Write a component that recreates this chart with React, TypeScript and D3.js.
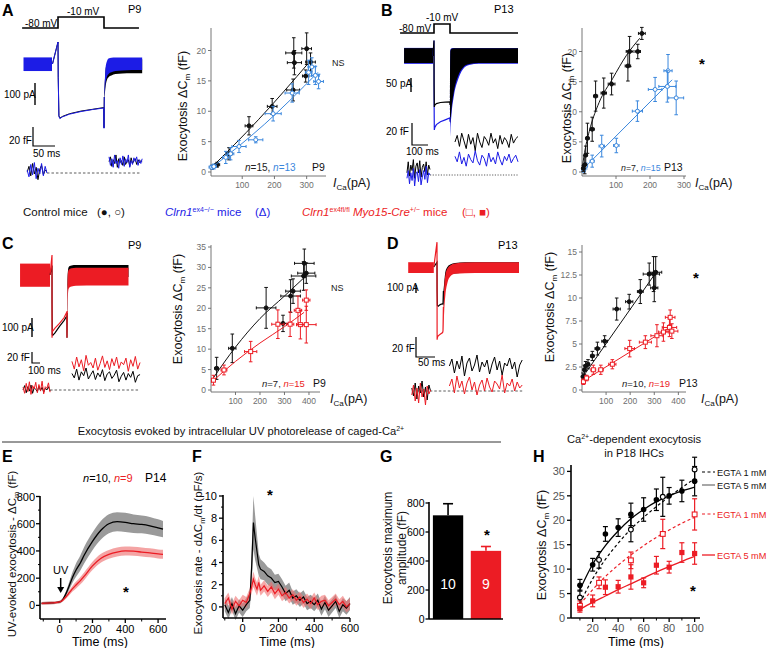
import React from "react";
import * as d3 from "d3";

const FONT = "'Liberation Sans', Arial, Helvetica, sans-serif";
const BLUE_TR = "#1c1ce6";
const BLUE_PT = "#3a87dd";
const RED = "#ec1c24";
const AX = "#666";
const TK = "#6e6e6e";

// ================= Panel A traces (P9) =================
const protoA_t = [-78, 0, 0, 100, 100, 176];
const protoA_mV = [-80, -80, -10, -10, -80, -80];
const preA_t = [-75, -13];
const preA_hi = [30, 30];
const preA_lo = [-32, -32];
const stepA_t = [-12, 0, 0.5, 2, 4, 10, 25, 50, 75, 99.5, 100, 100.6];
const stepA_ctl = [0, 100, -60, -235, -246, -238, -226, -214, -206, -198, -290, -150];
const stepA_ko = [0, 100, -60, -238, -248, -240, -228, -216, -207, -200, -292, -150];
const postA_t = [100.6, 103, 106, 110, 116, 125, 140, 160, 183];
const postA_ctl_hi = [-130, -40, 0, 15, 20, 22, 22, 22, 22];
const postA_ctl_lo = [-170, -110, -75, -60, -52, -46, -43, -42, -42];
const postA_ko_hi = [-125, -30, 10, 25, 28, 30, 30, 30, 30];
const postA_ko_lo = [-160, -95, -60, -45, -38, -32, -29, -27, -27];
const cmA_pre_ctl = [1, 7, -3, 10, -1, 6, -7, 4, 8, -2, 3, 2];
const cmA_pre_ko = [3, -4, 9, -2, 11, -6, 5, -1, 10, -3, 7, 0];
const cmA_post_ctl = [12, 17, 7, 14, 10, 19, 6, 15, 11, 13, 8, 17, 9, 12, 14, 7, 16, 10, 13, 15, 9, 14, 11, 13, 12];
const cmA_post_ko = [17, 8, 15, 6, 19, 10, 13, 5, 16, 9, 18, 7, 15, 11, 19, 6, 13, 9, 16, 12, 17, 8, 14, 10, 15];

// ================= Panel B traces (P13) =================
const protoB_t = [-212, 0, 0, 100, 100, 525];
const protoB_mV = [-80, -80, -10, -10, -80, -80];
const preB_t = [-187, -6];
const preB_hi = [28, 28];
const preB_lo = [-25, -25];
const preB_ko_hi = [29, 29];
const preB_ko_lo = [-28, -28];
const stepB_t = [-6, 0, 0.5, 2, 5, 15, 40, 70, 99, 100];
const stepB_ctl = [0, 55, -100, -182, -175, -170, -166, -165, -164, -175];
const stepB_ko = [0, 55, -150, -264, -255, -245, -235, -228, -221, -235];
const postB_t = [100, 102, 110, 125, 150, 180, 220, 280, 525];
const postB_ko_hi = [-220, 22, 28, 29, 29, 29, 29, 29, 29];
const postB_ko_lo = [-290, -265, -205, -140, -85, -48, -32, -28, -28];
const postB_ctl_hi = [-170, 18, 26, 28, 28, 28, 28, 28, 28];
const postB_ctl_lo = [-240, -235, -185, -125, -72, -42, -29, -25, -25];
const cmB_pre_ctl = [2, 12, -1, 9, 4, 14, -3, 8, 11, 2, 13, -2, 7, 10, 3, 12, 0, 9, 5];
const cmB_pre_ko = [-3, 4, -8, 2, -5, 6, -10, 1, 3, -6, 5, -9, -2, 4, -4, 8, -7, 2, 0];
const cmB_post_ctl = [30, 36, 26, 38, 31, 24, 37, 28, 34, 22, 38, 30, 25, 35, 32, 27, 38, 29, 33, 24, 36, 28, 34, 31, 25, 37, 29, 33, 35];
const cmB_post_ko = [17, 12, 21, 10, 16, 8, 19, 14, 11, 22, 13, 9, 18, 15, 8, 20, 12, 16, 10, 21, 14, 9, 17, 13, 19, 11, 15, 18, 12];

// ================= Panel C traces (P9) =================
const preC_t = [-213, -13];
const preC_hi = [60, 60];
const preC_lo = [-62, -62];
const stepC_t = [-13, 0, 0.3, 2, 5, 20, 50, 80, 99, 100, 101];
const stepC_ctl = [0, 50, -150, -315, -318, -305, -270, -240, -215, -330, -200];
const stepC_ko = [0, 105, -330, -290, -295, -280, -255, -225, -195, -330, -190];
const postC_t = [101, 103, 106, 110, 118, 130, 160, 300, 510];
const postC_ko_hi = [-220, -60, 10, 25, 32, 35, 38, 38, 38];
const postC_ko_lo = [-310, -200, -110, -75, -65, -60, -57, -55, -55];
const postC_ctl_hi = [-200, -40, 20, 40, 48, 50, 52, 52, 52];
const postC_ctl_lo = [-300, -150, -60, -30, -20, -15, -12, -10, -10];
const cmC_pre_ko = [5, -6, 12, -3, 15, -8, 8, 2, 14, -5, 10, -2, 16, -7, 6, 3, 13, -4];
const cmC_pre_ctl = [0, 8, -5, 6, -2, 9, -6, 4, 1, -3, 7, -1, 5, -4, 3, 0, 6, -2];
const cmC_post_ko = [52, 38, 60, 42, 55, 35, 63, 45, 50, 40, 58, 36, 48, 62, 41, 53, 37, 57, 44, 60, 39, 51, 46, 58, 34, 55, 43, 61, 38, 50];
const cmC_post_ctl = [30, 22, 38, 18, 33, 26, 40, 20, 28, 35, 19, 31, 24, 37, 17, 29, 33, 21, 27, 36, 15, 25, 32, 18, 30, 23, 34, 14, 26, 28];

// ================= Panel D traces (P13) =================
const preD_t = [-72, -8];
const preD_hi = [60, 60];
const preD_lo = [-75, -75];
const stepD_t = [-8, 0, 0.3, 1, 3, 8, 14, 15, 16];
const stepD_ctl = [0, 60, -300, -480, -490, -470, -460, -470, -300];
const stepD_ko = [0, 310, -910, -880, -860, -840, -820, -800, -500];
const postD_t = [16, 18, 21, 26, 33, 45, 70, 120, 205];
const postD_ctl_hi = [-300, -200, -60, 0, 30, 50, 58, 60, 60];
const postD_ctl_lo = [-520, -350, -200, -120, -90, -80, -76, -75, -75];
const postD_ko_hi = [-500, -250, -100, -20, 20, 45, 55, 60, 60];
const postD_ko_lo = [-800, -550, -350, -200, -120, -85, -78, -75, -75];
const cmD_pre_ctl = [3, -5, 8, -8, 5, -2, 10, -6, 4, -9, 6, 0];
const cmD_pre_ko = [-4, 6, -10, 3, -12, 8, -6, 2, -14, 5, -3, 1];
const cmD_post_ctl = [25, 32, 18, 30, 22, 35, 15, 28, 33, 20, 26, 36, 19, 29, 24, 31, 17, 27, 34, 21, 30, 16, 28, 25, 33, 22, 29, 14, 26, 31];
const cmD_post_ko = [5, 12, -2, 15, 3, 10, -3, 8, 14, 1, 9, -4, 6, 11, 0, 13, 4, -1, 10, 7, 2, 16, -2, 8, 5, 12, 0, 9, 3, 6];

// ================= Scatter data [ICa (pA), dCm (fF), xErr, yErr] =================
const scA_ctl = [[7, 0.8, 6, 0.3], [22, 1.2, 8, 0.4], [59, 3.0, 10, 1.0], [121, 7.6, 12, 1.5], [193, 10.8, 15, 1.3], [258, 13.5, 20, 1.8], [260, 19.6, 25, 2.5], [262, 18.0, 22, 2.0], [300, 20.3, 15, 2.6], [297, 15.8, 10, 1.0], [312, 18.1, 15, 1.5]];
const scA_ko = [[5, 0.8, 8, 0.3], [12, 0.9, 8, 0.4], [49, 2.4, 10, 1.0], [64, 3.0, 10, 1.0], [90, 4.2, 22, 1.0], [142, 5.3, 22, 0.5], [196, 9.6, 25, 1.2], [255, 13.0, 22, 1.5], [306, 16.4, 10, 2.0], [316, 17.3, 12, 1.5], [327, 15.9, 12, 1.5], [337, 14.9, 15, 1.2]];
const fitA_ctl_I = [0, 150, 310];
const fitA_ctl_C = [0.5, 8.6, 18.2];
const fitA_ko_I = [0, 170, 335];
const fitA_ko_C = [0.5, 7.9, 16.4];

const scB_ctl = [[4, 0.6, 3, 0.5], [8, 1.2, 3, 1.5], [11, 2.8, 4, 1.5], [16, 5.6, 5, 2.5], [30, 7.1, 6, 2.0], [40, 12.6, 6, 2.5], [64, 13.1, 8, 2.5], [87, 14.6, 10, 1.8], [135, 17.6, 8, 2.5], [140, 20, 10, 2.5], [164, 20, 8, 1.2], [176, 23, 10, 1]];
const scB_ko = [[5, 0.3, 3, 0.3], [11, 1.0, 5, 0.5], [30, 1.8, 6, 1.0], [58, 4.3, 8, 1.8], [101, 4.4, 8, 1.2], [163, 10.1, 15, 1.7], [215, 13.7, 20, 2.0], [253, 16.8, 12, 2.7], [251, 14.2, 25, 2.6], [277, 12.3, 22, 2.8]];
const fitB_ctl_I = [0, 10, 25, 50, 90, 130, 170];
const fitB_ctl_C = [0.5, 4, 7.5, 11.5, 15.5, 19.3, 22.2];
const fitB_ko_I = [0, 265];
const fitB_ko_C = [0.3, 15.3];

const scC_ctl = [[23, 5.3, 8, 2.7], [87, 10.2, 15, 3.5], [225, 20.1, 40, 5], [294, 16.3, 25, 2], [325, 23, 40, 4], [335, 24.2, 30, 3], [378, 27.9, 50, 3.5], [381, 31, 40, 3.5], [389, 28.6, 35, 2.5]];
const scC_ko = [[10, 2.4, 5, 1.2], [53, 4.9, 12, 1.2], [162, 9.4, 25, 2.5], [273, 16.1, 25, 3.5], [323, 16.1, 15, 3], [355, 19.5, 15, 3.5], [365, 16, 15, 3.5], [389, 22, 15, 2.5], [389, 16, 40, 4.5]];
const fitC_ctl_I = [10, 100, 200, 300, 380];
const fitC_ctl_C = [3, 10.5, 17.5, 23, 27.5];
const fitC_ko_I = [0, 100, 200, 300, 380];
const fitC_ko_C = [1.8, 7, 11.5, 15.5, 19];

const scD_ctl = [[4, 1.45, 3, 0.4], [10, 2.2, 4, 0.5], [15, 2.6, 5, 0.5], [25, 2.8, 6, 0.5], [43, 3.7, 8, 0.5], [64, 4.5, 10, 0.7], [94, 5.3, 12, 0.6], [144, 8.8, 15, 1.2], [196, 9.6, 15, 0.8], [242, 10.7, 12, 1.3], [279, 12.6, 25, 1.2], [297, 12.6, 25, 1.9], [300, 11.1, 15, 1.5], [306, 12.8, 25, 1.7]];
const scD_ko = [[6, 0.9, 3, 0.3], [19, 1.3, 5, 0.3], [47, 2.2, 10, 0.5], [78, 2.2, 10, 0.5], [126, 2.8, 15, 0.5], [198, 4.5, 20, 0.9], [263, 5.2, 25, 0.7], [311, 5.9, 25, 1.2], [338, 6.3, 20, 1.0], [363, 6.8, 30, 1.0], [366, 7.9, 20, 0.8], [373, 6.4, 25, 0.8]];
const fitD_ctl_I = [0, 305];
const fitD_ctl_C = [1.3, 12.7];
const fitD_ko_I = [0, 370];
const fitD_ko_C = [0.9, 6.9];

// ================= Panel E =================
const tE = [-110, -50, 0, 20, 40, 60, 80, 100, 125, 150, 200, 250, 300, 350, 400, 450, 500, 550, 600, 630];
const eCtl = [15, 18, 25, 45, 90, 150, 210, 260, 310, 370, 470, 550, 600, 615, 610, 600, 595, 585, 570, 560];
const eCtlSe = [10, 10, 10, 12, 20, 30, 40, 50, 55, 60, 65, 68, 70, 70, 70, 68, 65, 65, 62, 60];
const eKo = [15, 18, 25, 40, 65, 95, 125, 150, 180, 215, 290, 345, 375, 392, 400, 398, 392, 386, 378, 375];
const eKoSe = [10, 10, 10, 12, 15, 18, 22, 25, 27, 28, 30, 32, 32, 33, 33, 33, 33, 33, 33, 33];
const eTicksX = [0, 200, 400, 600];
const eTicksY = [0, 200, 400, 600, 800];

// ================= Panel F =================
const tF = [-100, -80, -60, -40, -20, 0, 20, 40, 50, 60, 70, 80, 90, 100, 120, 140, 160, 180, 200, 220, 240, 260, 280, 300, 320, 340, 360, 380, 400, 420, 440, 460, 480, 500, 520, 540, 560, 580, 600];
const fCtl = [0.2, -0.5, 0.3, -0.6, 0.1, -0.3, 0.2, 0.6, 3.5, 7.6, 6.2, 5.0, 3.8, 3.4, 3.2, 2.8, 2.6, 2.2, 2.3, 1.8, 1.2, 1.5, 0.8, 1.0, 0.6, 0.9, 0.3, 0.5, 0.2, 0.6, -0.2, 0.4, -0.3, 0.1, 0.5, -0.4, 0.2, -0.1, 0.3];
const fCtlSe = [0.6, 0.6, 0.6, 0.6, 0.6, 0.6, 0.6, 0.7, 1.5, 2.4, 2.0, 1.5, 1.0, 0.9, 0.8, 0.8, 0.8, 0.7, 0.7, 0.7, 0.7, 0.7, 0.6, 0.6, 0.6, 0.6, 0.6, 0.6, 0.6, 0.6, 0.6, 0.6, 0.6, 0.6, 0.6, 0.6, 0.6, 0.6, 0.6];
const fKo = [0.3, 0.8, -0.2, 0.5, 0.1, 0.6, 0.4, 1.2, 1.8, 2.5, 2.0, 1.6, 2.2, 1.5, 1.9, 1.4, 1.8, 1.2, 1.6, 1.0, 1.3, 0.8, 1.1, 0.6, 0.9, 0.4, 0.7, 0.3, 0.8, 0.2, 0.5, 0.6, 0.1, 0.4, 0.7, 0.2, 0.5, 0.0, 0.3];
const fKoSe = [0.5, 0.5, 0.5, 0.5, 0.5, 0.5, 0.5, 0.5, 0.6, 0.7, 0.6, 0.6, 0.6, 0.5, 0.5, 0.5, 0.5, 0.5, 0.5, 0.5, 0.5, 0.5, 0.5, 0.5, 0.5, 0.5, 0.5, 0.5, 0.5, 0.5, 0.5, 0.5, 0.5, 0.5, 0.5, 0.5, 0.5, 0.5, 0.5];
const fTicksX = [0, 200, 400, 600];
const fTicksY = [0, 2, 4, 6, 8, 10];

// ================= Panel G =================
const gCats = ["Control", "Clrn1"];
const gMeans = [715, 470];
const gSe = [80, 30];
const gN = ["10", "9"];
const gTicks = [0, 200, 400, 600, 800];

// ================= Panel H =================
const hT5 = [10, 20, 30, 40, 50, 60, 70, 80, 90, 100];
const hCtl5 = [6.7, 10.9, 17.2, 18.5, 21.2, 22.2, 24.2, 25.0, 26.0, 28.0];
const hCtl5Err = [1.2, 1.3, 1.5, 1.8, 2.3, 2.4, 2.2, 1.7, 2.2, 3.0];
const hKo5 = [2.0, 3.5, 6.3, 6.4, 8.4, 7.2, 10.8, 10.4, 13.4, 13.2];
const hKo5Err = [0.8, 1.2, 1.5, 1.3, 2.5, 1.0, 1.8, 1.2, 2.0, 2.2];
const hT1 = [10, 25, 50, 75, 100];
const hCtl1 = [4.2, 11.9, 18.1, 24.8, 30.4];
const hCtl1Err = [1.5, 1.7, 2.5, 4.0, 2.5];
const hKo1 = [2.5, 7.2, 11.8, 17.2, 21.2];
const hKo1Err = [1.0, 1.2, 1.7, 3.0, 3.2];
const hFitT = [10, 20, 30, 40, 50, 60, 70, 80, 90, 100];
const hFitCtl5 = [5.8, 11.0, 14.8, 17.8, 20.3, 22.2, 23.8, 25.0, 26.0, 26.8];
const hFitCtl1 = [3.0, 8.0, 12.0, 15.3, 18.2, 20.6, 22.8, 24.8, 26.7, 28.5];
const hFitKo1 = [2.8, 5.8, 8.5, 10.8, 12.9, 14.8, 16.5, 18.0, 19.4, 20.6];
const hFitKo5 = [1.8, 3.2, 4.5, 5.8, 7.0, 8.2, 9.4, 10.5, 11.6, 12.6];
const hTicksX = [20, 40, 60, 80, 100];
const hMinorX = [10, 30, 50, 70, 90];
const hTicksY = [0, 5, 10, 15, 20, 25, 30];

// ================= helpers =================
const lp = (xs: number[], ys: number[], sx: any, sy: any, curve: any = d3.curveLinear) =>
  (d3.line<number>().x((_, i) => sx(xs[i])).y((_, i) => sy(ys[i])).curve(curve) as any)(ys) || "";
const ap = (xs: number[], lo: number[], hi: number[], sx: any, sy: any, curve: any = d3.curveLinear) =>
  (d3.area<number>().x((_, i) => sx(xs[i])).y0((_, i) => sy(lo[i])).y1((_, i) => sy(hi[i])).curve(curve) as any)(lo) || "";
const grid = (t0: number, t1: number, vals: number[]) => vals.map((_, i) => t0 + ((t1 - t0) * i) / (vals.length - 1));

function YLabel({ x, y, size = 12.5, pre, sub, post, fill = "#111" }: any) {
  return (
    <text transform={`translate(${x},${y}) rotate(-90)`} textAnchor="middle" fontSize={size} fill={fill}>
      <tspan>{pre}</tspan>
      {sub ? <tspan dy={3} fontSize={size * 0.65}>{sub}</tspan> : null}
      {post ? <tspan dy={sub ? -3 : 0}>{post}</tspan> : null}
    </text>
  );
}

function ICaLabel({ x, y }: any) {
  return (
    <text x={x} y={y} fontSize={12.5} fill="#111">
      <tspan fontStyle="italic">I</tspan>
      <tspan dy={3} fontSize={8}>Ca</tspan>
      <tspan dy={-3}>(pA)</tspan>
    </text>
  );
}

function Scatter({ sx, sy, axisX, axisY, xEnd, yTop, xTicks, yTicks, series }: any) {
  return (
    <g>
      <line x1={axisX} x2={axisX} y1={axisY} y2={yTop} stroke={AX} strokeWidth={0.9} />
      <line x1={axisX} x2={xEnd} y1={axisY} y2={axisY} stroke={AX} strokeWidth={0.9} />
      {yTicks.map((v: number) => (
        <g key={"y" + v}>
          <line x1={axisX - 3} x2={axisX} y1={sy(v)} y2={sy(v)} stroke={AX} strokeWidth={0.9} />
          <text x={axisX - 5} y={sy(v) + 3} textAnchor="end" fontSize={8.5} fill={TK}>{String(v)}</text>
        </g>
      ))}
      {xTicks.map((v: number) => (
        <g key={"x" + v}>
          <line x1={sx(v)} x2={sx(v)} y1={axisY} y2={axisY + 3} stroke={AX} strokeWidth={0.9} />
          <text x={sx(v)} y={axisY + 12} textAnchor="middle" fontSize={8.5} fill={TK}>{String(v)}</text>
        </g>
      ))}
      {series.map((s: any, k: number) => (
        <g key={k}>
          <path d={lp(s.fitI, s.fitC, sx, sy, d3.curveMonotoneX)} fill="none" stroke={s.color} strokeWidth={1} />
          {s.pts.map((p: number[], i: number) => {
            const [I, C, xe, ye] = p;
            const cx = sx(I), cy = sy(C);
            const xl = sx(I - xe), xr = sx(I + xe), yt = sy(C + ye), yb = sy(C - ye);
            return (
              <g key={i} stroke={s.color} strokeWidth={1}>
                <line x1={xl} x2={xr} y1={cy} y2={cy} />
                <line x1={xl} x2={xl} y1={cy - 1.5} y2={cy + 1.5} />
                <line x1={xr} x2={xr} y1={cy - 1.5} y2={cy + 1.5} />
                <line x1={cx} x2={cx} y1={yt} y2={yb} />
                <line x1={cx - 1.8} x2={cx + 1.8} y1={yt} y2={yt} />
                <line x1={cx - 1.8} x2={cx + 1.8} y1={yb} y2={yb} />
                {s.shape === "square" ? (
                  <rect x={cx - 2} y={cy - 2} width={4} height={4} fill={s.fill} />
                ) : (
                  <circle cx={cx} cy={cy} r={2} fill={s.fill} />
                )}
              </g>
            );
          })}
        </g>
      ))}
    </g>
  );
}

function NText({ x, y, a, b, colB, p, px, size = 10 }: any) {
  return (
    <g>
      <text x={x} y={y} fill="#222" fontSize={size}>
        <tspan fontStyle="italic">n</tspan>
        <tspan>{"=" + a + ", "}</tspan>
        <tspan fill={colB} fontStyle="italic">n</tspan>
        <tspan fill={colB}>{"=" + b}</tspan>
      </text>
      <text x={px} y={y} fill="#111" fontSize={10.5}>{p}</text>
    </g>
  );
}

export default function App() {
  // ---------- trace scales ----------
  const tA = d3.scaleLinear().domain([0, 100]).range([58, 104]);
  const vA = d3.scaleLinear().domain([-80, -10]).range([28, 17]);
  const iA = d3.scaleLinear().domain([0, -100]).range([64, 86]);
  const cA = d3.scaleLinear().domain([0, 20]).range([173, 154]);

  const tB = d3.scaleLinear().domain([0, 100]).range([434, 450]);
  const vB = d3.scaleLinear().domain([-80, -10]).range([33, 24]);
  const iB = d3.scaleLinear().domain([0, -50]).range([56, 70]);
  const cB = d3.scaleLinear().domain([0, 20]).range([175, 153]);

  const tC = d3.scaleLinear().domain([0, 100]).range([52, 67]);
  const iC = d3.scaleLinear().domain([0, -100]).range([275, 294]);
  const cC = d3.scaleLinear().domain([0, 20]).range([390, 379]);

  const tD = d3.scaleLinear().domain([0, 15]).range([437, 443]);
  const iD = d3.scaleLinear().domain([0, -100]).range([267, 275]);
  const cD = d3.scaleLinear().domain([0, 20]).range([391, 371]);

  // ---------- scatter scales ----------
  const sxA = d3.scaleLinear().domain([0, 360]).range([210, 326]);
  const syA = d3.scaleLinear().domain([0, 20]).range([172, 50.5]);
  const sxB = d3.scaleLinear().domain([0, 300]).range([582, 684]);
  const syB = d3.scaleLinear().domain([0, 20]).range([172, 51.5]);
  const sxC = d3.scaleLinear().domain([0, 445]).range([211, 320]);
  const syC = d3.scaleLinear().domain([0, 35]).range([390, 247]);
  const sxD = d3.scaleLinear().domain([0, 440]).range([582, 688]);
  const syD = d3.scaleLinear().domain([0, 15]).range([390, 252]);

  // ---------- bottom panels ----------
  const xE = d3.scaleLinear().domain([-120, 630]).range([40, 163]);
  const yE = d3.scaleLinear().domain([-100, 800]).range([619, 496.5]);
  const xF = d3.scaleLinear().domain([-110, 600]).range([223, 350]);
  const yF = d3.scaleLinear().domain([-1, 10]).range([618, 496]);
  const xG = d3.scaleBand().domain(gCats).range([431, 503]).paddingInner(0.2).paddingOuter(0.05);
  const yG = d3.scaleLinear().domain([0, 800]).range([619, 503]);
  const xH = d3.scaleLinear().domain([3, 105]).range([571, 701]);
  const yH = d3.scaleLinear().domain([0, 30]).range([618, 471.4]);

  const smooth = d3.curveMonotoneX;

  const hErr = (ts: number[], ms: number[], es: number[], col: string) =>
    ts.map((t, i) => (
      <g key={i} stroke={col} strokeWidth={1.2}>
        <line x1={xH(t)} x2={xH(t)} y1={yH(ms[i] - es[i])} y2={yH(ms[i] + es[i])} />
        <line x1={xH(t) - 2.5} x2={xH(t) + 2.5} y1={yH(ms[i] - es[i])} y2={yH(ms[i] - es[i])} />
        <line x1={xH(t) - 2.5} x2={xH(t) + 2.5} y1={yH(ms[i] + es[i])} y2={yH(ms[i] + es[i])} />
      </g>
    ));

  const cmLabel = { pre: "Exocytosis ΔC", sub: "m", post: " (fF)" };

  return (
    <svg
      width={768}
      height={648}
      style={{ position: "absolute", left: 0, top: 0, background: "#fff" }}
      fontFamily={FONT}
    >
      <rect x={0} y={0} width={768} height={648} fill="#fff" />

      {/* ===================== A ===================== */}
      <text x={2} y={16} fontSize={16} fontWeight="bold">A</text>
      <text x={128} y={13} fontSize={11}>P9</text>
      <text x={25} y={27} fontSize={10}>-80 mV</text>
      <text x={67} y={15} fontSize={10}>-10 mV</text>
      <path d={lp(protoA_t, protoA_mV, tA, vA)} fill="none" stroke="#000" strokeWidth={1.6} />
      <path d={ap(preA_t, preA_lo, preA_hi, tA, iA)} fill={BLUE_TR} />
      <path d={ap(postA_t, postA_ctl_lo, postA_ctl_hi, tA, iA, smooth)} fill="#000" />
      <path d={ap(postA_t, postA_ko_lo, postA_ko_hi, tA, iA, smooth)} fill={BLUE_TR} />
      <path d={lp(stepA_t, stepA_ctl, tA, iA)} fill="none" stroke="#000" strokeWidth={1} />
      <path d={lp(stepA_t, stepA_ko, tA, iA)} fill="none" stroke={BLUE_TR} strokeWidth={1} />
      <text x={4} y={98} fontSize={10}>100 pA</text>
      <line x1={35} x2={35} y1={83} y2={105} stroke="#000" strokeWidth={1.4} />
      <text x={9} y={144} fontSize={10}>20 fF</text>
      <path d="M33,127V146H55" fill="none" stroke="#000" strokeWidth={1.2} />
      <text x={33} y={157} fontSize={10}>50 ms</text>
      <line x1={tA(-24)} x2={tA(178)} y1={cA(0)} y2={cA(0)} stroke="#333" strokeDasharray="2.5,2" strokeWidth={0.8} />
      <path d={lp(grid(-67, -24, cmA_pre_ctl), cmA_pre_ctl, tA, cA)} fill="none" stroke="#000" strokeWidth={1} />
      <path d={lp(grid(-67, -24, cmA_pre_ko), cmA_pre_ko, tA, cA)} fill="none" stroke={BLUE_TR} strokeWidth={1} />
      <path d={lp(grid(111, 183, cmA_post_ctl), cmA_post_ctl, tA, cA)} fill="none" stroke="#000" strokeWidth={1} />
      <path d={lp(grid(111, 183, cmA_post_ko), cmA_post_ko, tA, cA)} fill="none" stroke={BLUE_TR} strokeWidth={1} />

      <Scatter
        sx={sxA} sy={syA} axisX={211} axisY={176} xEnd={326} yTop={28}
        xTicks={[100, 200, 300]} yTicks={[0, 5, 10, 15, 20]}
        series={[
          { pts: scA_ctl, fitI: fitA_ctl_I, fitC: fitA_ctl_C, color: "#111", fill: "#111", shape: "circle" },
          { pts: scA_ko, fitI: fitA_ko_I, fitC: fitA_ko_C, color: BLUE_PT, fill: "#fff", shape: "circle" },
        ]}
      />
      <YLabel x={187} y={106} {...cmLabel} />
      <ICaLabel x={333} y={187} />
      <text x={332} y={66} fontSize={9} fill="#222">NS</text>
      <NText x={245} y={171} a="15" b="13" colB={BLUE_PT} p="P9" px={312} />

      {/* ===================== B ===================== */}
      <text x={381} y={16} fontSize={16} fontWeight="bold">B</text>
      <text x={494} y={13} fontSize={11}>P13</text>
      <text x={399} y={32} fontSize={10}>-80 mV</text>
      <text x={426} y={21} fontSize={10}>-10 mV</text>
      <path d={lp(protoB_t, protoB_mV, tB, vB)} fill="none" stroke="#000" strokeWidth={1.6} />
      <path d={ap(preB_t, preB_ko_lo, preB_ko_hi, tB, iB)} fill={BLUE_TR} />
      <path d={ap(preB_t, preB_lo, preB_hi, tB, iB)} fill="#000" />
      <path d={ap(postB_t, postB_ko_lo, postB_ko_hi, tB, iB, smooth)} fill={BLUE_TR} />
      <path d={ap(postB_t, postB_ctl_lo, postB_ctl_hi, tB, iB, smooth)} fill="#000" />
      <path d={lp(stepB_t, stepB_ko, tB, iB)} fill="none" stroke={BLUE_TR} strokeWidth={1.2} />
      <path d={lp(stepB_t, stepB_ctl, tB, iB)} fill="none" stroke="#000" strokeWidth={1.2} />
      <text x={386} y={87} fontSize={10}>50 pA</text>
      <line x1={411} x2={411} y1={78} y2={92} stroke="#000" strokeWidth={1.4} />
      <text x={386} y={135} fontSize={10}>20 fF</text>
      <path d="M412,123V145H428" fill="none" stroke="#000" strokeWidth={1.2} />
      <text x={406} y={155} fontSize={10}>100 ms</text>
      <line x1={tB(-25)} x2={tB(525)} y1={cB(0)} y2={cB(0)} stroke="#333" strokeDasharray="1.2,1.5" strokeWidth={0.8} />
      <path d={lp(grid(-169, -25, cmB_pre_ctl), cmB_pre_ctl, tB, cB)} fill="none" stroke="#000" strokeWidth={1} />
      <path d={lp(grid(-169, -25, cmB_pre_ko), cmB_pre_ko, tB, cB)} fill="none" stroke={BLUE_TR} strokeWidth={1} />
      <path d={lp(grid(131, 525, cmB_post_ctl), cmB_post_ctl, tB, cB)} fill="none" stroke="#000" strokeWidth={1} />
      <path d={lp(grid(131, 525, cmB_post_ko), cmB_post_ko, tB, cB)} fill="none" stroke={BLUE_TR} strokeWidth={1} />

      <Scatter
        sx={sxB} sy={syB} axisX={582} axisY={176} xEnd={686} yTop={28}
        xTicks={[100, 200, 300]} yTicks={[0, 5, 10, 15, 20]}
        series={[
          { pts: scB_ko, fitI: fitB_ko_I, fitC: fitB_ko_C, color: BLUE_PT, fill: "#fff", shape: "circle" },
          { pts: scB_ctl, fitI: fitB_ctl_I, fitC: fitB_ctl_C, color: "#111", fill: "#111", shape: "circle" },
        ]}
      />
      <YLabel x={571} y={108} {...cmLabel} />
      <ICaLabel x={695} y={187} />
      <text x={702} y={69} fontSize={15} fontWeight="bold" textAnchor="middle">*</text>
      <NText x={621} y={171} a="7" b="15" colB={BLUE_PT} p="P13" px={664} size={8.8} />

      {/* ===================== legend row ===================== */}
      <g fontSize={11.5}>
        <text x={23} y={216} fill="#111">Control mice</text>
        <text x={97} y={216} fill="#111">(●, ○)</text>
        <text x={165} y={216} fill={BLUE_TR}>
          <tspan fontStyle="italic">Clrn1</tspan>
          <tspan dy={-4} fontSize={7}>ex4−/−</tspan>
          <tspan dy={4}> mice</tspan>
        </text>
        <text x={255} y={216} fill={BLUE_TR}>(Δ)</text>
        <text x={302} y={216} fill={RED}>
          <tspan fontStyle="italic">Clrn1</tspan>
          <tspan dy={-4} fontSize={7}>ex4fl/fl</tspan>
          <tspan dy={4} fontStyle="italic"> Myo15-Cre</tspan>
          <tspan dy={-4} fontSize={7}>+/−</tspan>
          <tspan dy={4}> mice</tspan>
        </text>
        <text x={462} y={216} fill={RED}>(□, ■)</text>
      </g>

      {/* ===================== C ===================== */}
      <text x={2} y={249} fontSize={16} fontWeight="bold">C</text>
      <text x={128} y={249} fontSize={11}>P9</text>
      <path d={ap(preC_t, preC_lo, preC_hi, tC, iC)} fill={RED} />
      <path d={ap(postC_t, postC_ctl_lo, postC_ctl_hi, tC, iC, smooth)} fill="#000" />
      <path d={ap(postC_t, postC_ko_lo, postC_ko_hi, tC, iC, smooth)} fill={RED} />
      <path d={lp(stepC_t, stepC_ctl, tC, iC)} fill="none" stroke="#000" strokeWidth={1.2} />
      <path d={lp(stepC_t, stepC_ko, tC, iC)} fill="none" stroke={RED} strokeWidth={1.2} />
      <text x={2} y={331} fontSize={10}>100 pA</text>
      <line x1={32} x2={32} y1={318} y2={337} stroke="#000" strokeWidth={1.4} />
      <text x={7} y={361} fontSize={10}>20 fF</text>
      <path d="M32,352V363H40" fill="none" stroke="#000" strokeWidth={1.2} />
      <text x={28} y={374} fontSize={10}>100 ms</text>
      <line x1={tC(-13)} x2={tC(587)} y1={cC(0)} y2={cC(0)} stroke="#333" strokeDasharray="2.5,2" strokeWidth={0.8} />
      <path d={lp(grid(-193, -13, cmC_pre_ctl), cmC_pre_ctl, tC, cC)} fill="none" stroke="#000" strokeWidth={1} />
      <path d={lp(grid(-193, -13, cmC_pre_ko), cmC_pre_ko, tC, cC)} fill="none" stroke={RED} strokeWidth={1} />
      <path d={lp(grid(133, 587, cmC_post_ctl), cmC_post_ctl, tC, cC)} fill="none" stroke="#000" strokeWidth={1} />
      <path d={lp(grid(133, 587, cmC_post_ko), cmC_post_ko, tC, cC)} fill="none" stroke={RED} strokeWidth={1} />

      <Scatter
        sx={sxC} sy={syC} axisX={211} axisY={392} xEnd={320} yTop={245}
        xTicks={[100, 200, 300, 400]} yTicks={[0, 5, 10, 15, 20, 25, 30, 35]}
        series={[
          { pts: scC_ctl, fitI: fitC_ctl_I, fitC: fitC_ctl_C, color: "#111", fill: "#111", shape: "circle" },
          { pts: scC_ko, fitI: fitC_ko_I, fitC: fitC_ko_C, color: RED, fill: "#fff", shape: "square" },
        ]}
      />
      <YLabel x={182} y={309} {...cmLabel} />
      <ICaLabel x={330} y={403} />
      <text x={331} y={291} fontSize={9} fill="#222">NS</text>
      <NText x={262} y={387} a="7" b="15" colB={RED} p="P9" px={313} size={9.5} />

      {/* ===================== D ===================== */}
      <text x={387} y={249} fontSize={16} fontWeight="bold">D</text>
      <text x={498} y={249} fontSize={11}>P13</text>
      <path d={ap(preD_t, preD_lo, preD_hi, tD, iD)} fill={RED} />
      <path d={ap(postD_t, postD_ctl_lo, postD_ctl_hi, tD, iD, smooth)} fill="#000" />
      <path d={ap(postD_t, postD_ko_lo, postD_ko_hi, tD, iD, smooth)} fill={RED} />
      <path d={lp(stepD_t, stepD_ctl, tD, iD)} fill="none" stroke="#000" strokeWidth={1.2} />
      <path d={lp(stepD_t, stepD_ko, tD, iD)} fill="none" stroke={RED} strokeWidth={1.2} />
      <text x={387} y={291} fontSize={10}>100 pA</text>
      <line x1={416} x2={416} y1={285} y2={293} stroke="#000" strokeWidth={1.4} />
      <text x={392} y={352} fontSize={10}>20 fF</text>
      <path d="M416,337V357H435" fill="none" stroke="#000" strokeWidth={1.2} />
      <text x={418} y={366} fontSize={10}>50 ms</text>
      <line x1={tD(-63)} x2={tD(213)} y1={cD(0)} y2={cD(0)} stroke="#333" strokeDasharray="2.5,2" strokeWidth={0.8} />
      <path d={lp(grid(-63, -16, cmD_pre_ctl), cmD_pre_ctl, tD, cD)} fill="none" stroke="#000" strokeWidth={1} />
      <path d={lp(grid(-63, -16, cmD_pre_ko), cmD_pre_ko, tD, cD)} fill="none" stroke={RED} strokeWidth={1} />
      <path d={lp(grid(31, 213, cmD_post_ctl), cmD_post_ctl, tD, cD)} fill="none" stroke="#000" strokeWidth={1} />
      <path d={lp(grid(31, 213, cmD_post_ko), cmD_post_ko, tD, cD)} fill="none" stroke={RED} strokeWidth={1} />

      <Scatter
        sx={sxD} sy={syD} axisX={582} axisY={392} xEnd={686} yTop={245}
        xTicks={[100, 200, 300, 400]} yTicks={[0, 2.5, 5, 7.5, 10, 12.5, 15]}
        series={[
          { pts: scD_ctl, fitI: fitD_ctl_I, fitC: fitD_ctl_C, color: "#111", fill: "#111", shape: "circle" },
          { pts: scD_ko, fitI: fitD_ko_I, fitC: fitD_ko_C, color: RED, fill: "#fff", shape: "square" },
        ]}
      />
      <YLabel x={554} y={307} {...cmLabel} />
      <ICaLabel x={701} y={403} />
      <text x={696} y={283} fontSize={15} fontWeight="bold" textAnchor="middle">*</text>
      <NText x={622} y={387} a="10" b="19" colB={RED} p="P13" px={679} size={9.5} />

      {/* ===================== section headers ===================== */}
      <text x={241} y={435} fontSize={11.2} textAnchor="middle" fill="#111">
        <tspan>Exocytosis evoked by intracellular UV photorelease of caged-Ca</tspan>
        <tspan dy={-4} fontSize={7}>2+</tspan>
      </text>
      <line x1={2} x2={501} y1={442} y2={442} stroke="#333" strokeWidth={1} />
      <text x={634} y={443} fontSize={11.2} textAnchor="middle" fill="#111">
        <tspan>Ca</tspan>
        <tspan dy={-4} fontSize={7}>2+</tspan>
        <tspan dy={4}>-dependent exocytosis</tspan>
      </text>
      <text x={634} y={457} fontSize={11.2} textAnchor="middle" fill="#111">in P18 IHCs</text>

      {/* ===================== E ===================== */}
      <text x={2} y={462} fontSize={16} fontWeight="bold">E</text>
      <path d={ap(tE, eCtl.map((m, i) => m - eCtlSe[i]), eCtl.map((m, i) => m + eCtlSe[i]), xE, yE, smooth)} fill="#9a9a9a" />
      <path d={ap(tE, eKo.map((m, i) => m - eKoSe[i]), eKo.map((m, i) => m + eKoSe[i]), xE, yE, smooth)} fill="#f39a9a" opacity={0.9} />
      <path d={lp(tE, eCtl, xE, yE, smooth)} fill="none" stroke="#000" strokeWidth={1.3} />
      <path d={lp(tE, eKo, xE, yE, smooth)} fill="none" stroke={RED} strokeWidth={1.3} />
      <line x1={40} x2={40} y1={619} y2={496} stroke="#000" strokeWidth={1.6} />
      <line x1={40} x2={166} y1={619} y2={619} stroke="#000" strokeWidth={1.6} />
      {eTicksY.map((v) => (
        <g key={v}>
          <line x1={36} x2={40} y1={yE(v)} y2={yE(v)} stroke="#000" strokeWidth={1.3} />
          <text x={35} y={yE(v) + 4} fontSize={11} textAnchor="end">{String(v)}</text>
          {v < 800 && <line x1={38} x2={40} y1={yE(v + 100)} y2={yE(v + 100)} stroke="#000" />}
        </g>
      ))}
      {eTicksX.map((v) => (
        <g key={v}>
          <line x1={xE(v)} x2={xE(v)} y1={619} y2={623} stroke="#000" strokeWidth={1.3} />
          <text x={xE(v)} y={633} fontSize={11} textAnchor="middle">{String(v)}</text>
          <line x1={xE(v - 100)} x2={xE(v - 100)} y1={619} y2={621.5} stroke="#000" />
        </g>
      ))}
      <text x={100} y={646} fontSize={12.5} textAnchor="middle">Time (ms)</text>
      <YLabel x={16} y={554} size={11.5} pre="UV-evoked exocytosis - ΔC" sub="m" post=" (fF)" />
      <text x={83} y={482} fontSize={11}>
        <tspan fontStyle="italic">n</tspan>
        <tspan>=10, </tspan>
        <tspan fill={RED} fontStyle="italic">n</tspan>
        <tspan fill={RED}>=9</tspan>
      </text>
      <text x={145} y={482} fontSize={12}>P14</text>
      <text x={xE(0) + 1} y={574} fontSize={11} textAnchor="middle">UV</text>
      <line x1={xE(0) + 1} x2={xE(0) + 1} y1={578} y2={588} stroke="#000" strokeWidth={1.5} />
      <path d={`M${xE(0) - 2.5},587L${xE(0) + 4.5},587L${xE(0) + 1},593Z`} fill="#000" />
      <text x={126} y={597} fontSize={15} fontWeight="bold" textAnchor="middle">*</text>

      {/* ===================== F ===================== */}
      <text x={192} y={462} fontSize={16} fontWeight="bold">F</text>
      <path d={ap(tF, fCtl.map((m, i) => m - fCtlSe[i]), fCtl.map((m, i) => m + fCtlSe[i]), xF, yF)} fill="#9a9a9a" />
      <path d={ap(tF, fKo.map((m, i) => m - fKoSe[i]), fKo.map((m, i) => m + fKoSe[i]), xF, yF)} fill="#f07070" opacity={0.6} />
      <path d={lp(tF, fCtl, xF, yF)} fill="none" stroke="#000" strokeWidth={1.2} />
      <path d={lp(tF, fKo, xF, yF)} fill="none" stroke={RED} strokeWidth={1.2} />
      <line x1={223} x2={223} y1={618} y2={495} stroke="#000" strokeWidth={1.6} />
      <line x1={223} x2={350} y1={618} y2={618} stroke="#000" strokeWidth={1.6} />
      {fTicksY.map((v) => (
        <g key={v}>
          <line x1={219} x2={223} y1={yF(v)} y2={yF(v)} stroke="#000" strokeWidth={1.3} />
          <text x={217} y={yF(v) + 4} fontSize={11} textAnchor="end">{String(v)}</text>
          {v < 10 && <line x1={221} x2={223} y1={yF(v + 1)} y2={yF(v + 1)} stroke="#000" />}
        </g>
      ))}
      {fTicksX.map((v) => (
        <g key={v}>
          <line x1={xF(v)} x2={xF(v)} y1={618} y2={622} stroke="#000" strokeWidth={1.3} />
          <text x={xF(v)} y={632} fontSize={11} textAnchor="middle">{String(v)}</text>
          <line x1={xF(v - 100)} x2={xF(v - 100)} y1={618} y2={620.5} stroke="#000" />
        </g>
      ))}
      <text x={287} y={646} fontSize={12.5} textAnchor="middle">Time (ms)</text>
      <YLabel x={202} y={553} size={11.5} pre="Exocytosis rate - dΔC" sub="m" post="/dt (pF/s)" />
      <text x={270} y={500} fontSize={15} fontWeight="bold" textAnchor="middle">*</text>

      {/* ===================== G ===================== */}
      <text x={380} y={462} fontSize={16} fontWeight="bold">G</text>
      {gCats.map((c, i) => {
        const x0 = xG(c) as number;
        const w = xG.bandwidth();
        const col = i === 0 ? "#000" : RED;
        return (
          <g key={c}>
            <rect x={x0} y={yG(gMeans[i])} width={w} height={yG(0) - yG(gMeans[i])} fill={col} />
            <line x1={x0 + w / 2} x2={x0 + w / 2} y1={yG(gMeans[i])} y2={yG(gMeans[i] + gSe[i])} stroke={col} strokeWidth={1.6} />
            <line x1={x0 + w / 2 - 5} x2={x0 + w / 2 + 5} y1={yG(gMeans[i] + gSe[i])} y2={yG(gMeans[i] + gSe[i])} stroke={col} strokeWidth={1.6} />
            <text x={x0 + w / 2} y={589} fontSize={14} fill="#fff" textAnchor="middle">{gN[i]}</text>
          </g>
        );
      })}
      <line x1={429} x2={429} y1={619} y2={502} stroke="#000" strokeWidth={1.6} />
      <line x1={429} x2={503} y1={619} y2={619} stroke="#000" strokeWidth={1.6} />
      {gTicks.map((v) => (
        <g key={v}>
          <line x1={425.5} x2={429} y1={yG(v)} y2={yG(v)} stroke="#000" strokeWidth={1.3} />
          <text x={424.5} y={yG(v) + 4} fontSize={10.5} textAnchor="end">{String(v)}</text>
        </g>
      ))}
      <text x={487} y={540} fontSize={15} fontWeight="bold" textAnchor="middle">*</text>
      <YLabel x={392} y={548} size={12} pre="Exocytosis maximum" />
      <YLabel x={405.5} y={548} size={12} pre="amplitude (fF)" />

      {/* ===================== H ===================== */}
      <text x={533} y={462} fontSize={16} fontWeight="bold">H</text>
      <path d={lp(hFitT, hFitCtl1, xH, yH, smooth)} fill="none" stroke="#000" strokeWidth={1.2} strokeDasharray="3,2.5" />
      <path d={lp(hFitT, hFitCtl5, xH, yH, smooth)} fill="none" stroke="#000" strokeWidth={1.3} />
      <path d={lp(hFitT, hFitKo1, xH, yH, smooth)} fill="none" stroke={RED} strokeWidth={1.2} strokeDasharray="3,2.5" />
      <path d={lp(hFitT, hFitKo5, xH, yH, smooth)} fill="none" stroke={RED} strokeWidth={1.3} />
      {hErr(hT1, hCtl1, hCtl1Err, "#000")}
      {hErr(hT5, hCtl5, hCtl5Err, "#000")}
      {hErr(hT1, hKo1, hKo1Err, RED)}
      {hErr(hT5, hKo5, hKo5Err, RED)}
      {hT1.map((t, i) => (
        <circle key={"c1" + i} cx={xH(t)} cy={yH(hCtl1[i])} r={2.4} fill="#fff" stroke="#000" strokeWidth={1.1} />
      ))}
      {hT5.map((t, i) => (
        <circle key={"c5" + i} cx={xH(t)} cy={yH(hCtl5[i])} r={2.8} fill="#000" />
      ))}
      {hT1.map((t, i) => (
        <rect key={"k1" + i} x={xH(t) - 2.4} y={yH(hKo1[i]) - 2.4} width={4.8} height={4.8} fill="#fff" stroke={RED} strokeWidth={1.1} />
      ))}
      {hT5.map((t, i) => (
        <rect key={"k5" + i} x={xH(t) - 2.6} y={yH(hKo5[i]) - 2.6} width={5.2} height={5.2} fill={RED} />
      ))}
      <line x1={571} x2={571} y1={618} y2={465} stroke="#000" strokeWidth={1.6} />
      <line x1={571} x2={700} y1={618} y2={618} stroke="#000" strokeWidth={1.6} />
      {hTicksY.map((v) => (
        <g key={v}>
          <line x1={567} x2={571} y1={yH(v)} y2={yH(v)} stroke="#000" strokeWidth={1.3} />
          <text x={565} y={yH(v) + 4} fontSize={11} textAnchor="end" fill="#555">{String(v)}</text>
        </g>
      ))}
      {hTicksX.map((v) => (
        <g key={v}>
          <line x1={xH(v)} x2={xH(v)} y1={618} y2={622} stroke="#000" strokeWidth={1.3} />
          <text x={xH(v)} y={632} fontSize={11} textAnchor="middle" fill="#555">{String(v)}</text>
        </g>
      ))}
      {hMinorX.map((v) => (
        <line key={v} x1={xH(v)} x2={xH(v)} y1={618} y2={620.5} stroke="#000" />
      ))}
      <text x={636} y={646} fontSize={12.5} textAnchor="middle">Time (ms)</text>
      <YLabel x={546} y={545} size={12.5} {...cmLabel} />
      <text x={693} y={596} fontSize={15} fontWeight="bold" textAnchor="middle">*</text>
      <g fontSize={9.2}>
        <line x1={702} x2={715} y1={472} y2={472} stroke="#000" strokeDasharray="3,2.5" strokeWidth={1.2} />
        <text x={717} y={475.5} fill="#111">EGTA 1 mM</text>
        <line x1={702} x2={715} y1={485} y2={485} stroke="#777" strokeWidth={1.3} />
        <text x={717} y={488.5} fill="#111">EGTA 5 mM</text>
        <line x1={702} x2={715} y1={514} y2={514} stroke={RED} strokeDasharray="3,2.5" strokeWidth={1.2} />
        <text x={717} y={517.5} fill={RED}>EGTA 1 mM</text>
        <line x1={702} x2={715} y1={555} y2={555} stroke={RED} strokeWidth={1.3} />
        <text x={717} y={558.5} fill={RED}>EGTA 5 mM</text>
      </g>
    </svg>
  );
}
